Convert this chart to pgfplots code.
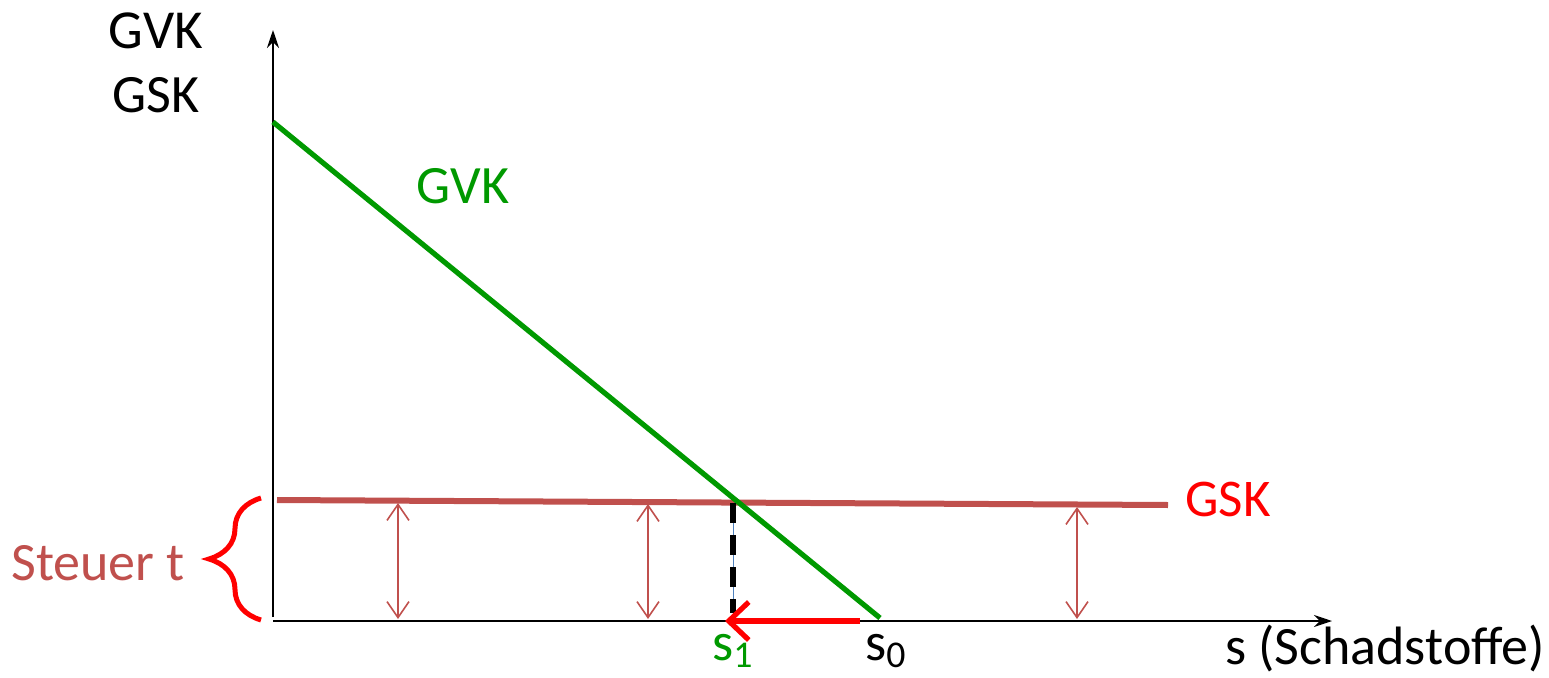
\documentclass[border=0pt]{standalone}
\usepackage{pgfplots}
\pgfplotsset{compat=1.18}
\usepackage{fontspec}
\setmainfont{Carlito}
\usetikzlibrary{arrows.meta,decorations.pathreplacing}

\definecolor{gvkgreen}{RGB}{0,153,0}
\definecolor{gskred}{RGB}{192,80,77}
\definecolor{brightred}{RGB}{255,0,0}
\definecolor{thinblue}{RGB}{79,129,189}

\newcommand{\lbl}[1]{\fontsize{#1}{#1}\selectfont}

\begin{document}
\begin{tikzpicture}
\begin{axis}[
  scale only axis,
  width=774.5pt, height=338.5pt,
  xmin=-273, xmax=1276, ymin=-56, ymax=621,
  axis lines=none,
  clip=false,
]
% corners of the drawing area
\coordinate (ll) at (axis cs:-273,-56);
\coordinate (ur) at (axis cs:1276,621);

% coordinate axes
\addplot[black, line width=1pt, -{Stealth[length=9pt,width=6pt]}]
  coordinates {(0,4) (0,591)};
\addplot[black, line width=1pt, -{Stealth[length=9pt,width=6pt]}]
  coordinates {(0,0) (1059,0)};

% marginal damage cost (GSK), constant level = tax t
\addplot[gskred, line width=3pt] coordinates {(4,121) (895,116)};

% marginal abatement cost (GVK)
\addplot[gvkgreen, line width=2.6pt] coordinates {(0,499) (607,3)};

% tax distance arrows
\addplot[gskred, line width=0.8pt, {Straight Barb[length=8pt,width=11pt]}-{Straight Barb[length=8pt,width=11pt]}]
  coordinates {(125,118) (125,2)};
\addplot[gskred, line width=0.8pt, {Straight Barb[length=8pt,width=11pt]}-{Straight Barb[length=8pt,width=11pt]}]
  coordinates {(375,117) (375,2)};
\addplot[gskred, line width=0.8pt, {Straight Barb[length=8pt,width=11pt]}-{Straight Barb[length=8pt,width=11pt]}]
  coordinates {(804,114) (804,2)};

% optimum s1
\addplot[thinblue, line width=0.5pt] coordinates {(460,118) (460,8)};
\addplot[black, line width=2.6pt, dash pattern=on 10pt off 6pt] coordinates {(460,118) (460,8)};

% shift from s0 to s1
\addplot[brightred, line width=2.6pt, -{Straight Barb[length=10pt,width=19pt,line width=2.6pt]}]
  coordinates {(587,0) (452,0)};

% brace marking the tax
\draw[brightred, line width=2.5pt, decorate, decoration={brace, amplitude=26pt, aspect=0.5}]
  (axis cs:-12,1) -- (axis cs:-12,123);

% labels
\node[anchor=center, font=\lbl{27.5}] at (axis cs:-117,590) {GVK};
\node[anchor=center, font=\lbl{27}] at (axis cs:-117,526) {GSK};
\node[anchor=center, font=\lbl{27}, text=gvkgreen] at (axis cs:190,435) {GVK};
\node[anchor=center, font=\lbl{26.5}, text=brightred] at (axis cs:955,122) {GSK};
\node[anchor=center, font=\lbl{27}, text=gskred] at (axis cs:-175,58) {Steuer t};
\node[anchor=center, font=\lbl{27}, text=gvkgreen] at (axis cs:460,-30) {s\textsubscript{1}};
\node[anchor=center, font=\lbl{27}] at (axis cs:613,-30) {s\textsubscript{0}};
\node[anchor=center, inner sep=0pt, font=\lbl{27}] at (axis cs:1112,-27) {s (Schadstoffe)};
\end{axis}
\pgfresetboundingbox
\useasboundingbox (ll) rectangle (ur);
\end{tikzpicture}
\end{document}
